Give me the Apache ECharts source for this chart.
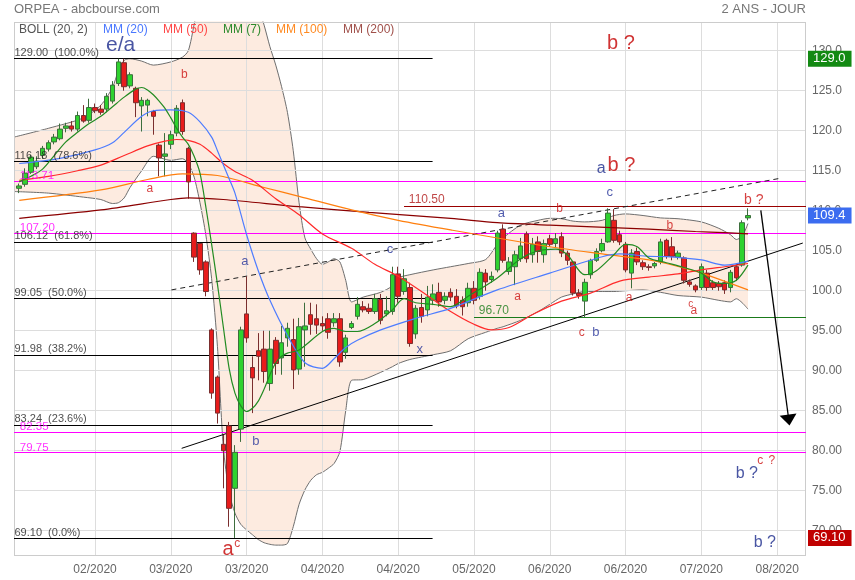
<!DOCTYPE html>
<html><head><meta charset="utf-8">
<script src="https://cdn.jsdelivr.net/npm/echarts@6/dist/echarts.min.js"></script>
<style>html,body{margin:0;padding:0;background:#fff}#c{width:855px;height:580px}</style>
</head><body><div id="c"></div>
<script>
// ---------- data ----------
const opens = [
112.8,113.3,114.8,115.5,116.9,117.7,118.6,119.0,120.3,120.6,
120.2,121.9,121.3,122.9,122.7,122.7,123.7,125.9,128.5,125.6,
125.3,123.1,123.2,122.4,118.2,116.8,118.3,119.7,123.5,117.8,
107.2,105.9,103.6,95.1,89.2,80.8,83.1,75.3,82.7,97.1,
90.4,92.5,92.7,88.4,93.8,91.6,94.1,93.9,90.2,95.1,
97.0,96.5,95.9,96.5,96.0,96.5,92.3,95.4,96.8,98.0,
97.8,97.4,98.9,97.1,97.4,102.1,99.9,100.4,94.6,97.9,
97.6,98.8,99.8,98.8,99.8,99.3,98.8,98.5,100.3,99.3,
102.2,101.4,102.6,107.7,102.4,103.0,104.0,107.1,104.5,106.1,
104.5,106.5,105.9,106.75,104.7,103.6,99.7,98.7,102.0,103.8,
105.0,106.1,108.8,107.0,105.8,102.2,104.9,103.5,103.0,103.1,
103.6,106.3,105.5,104.2,104.1,101.1,100.6,100.4,102.2,101.0,
100.9,101.0,100.4,103.0,103.2,109.1];
const closes = [
113.1,114.7,116.7,116.2,117.8,118.5,119.2,120.2,120.6,120.2,
121.9,121.2,122.9,122.5,122.3,124.3,125.7,128.6,125.5,127.0,
123.5,123.8,123.8,121.8,116.6,117.1,119.5,122.8,119.9,113.6,
104.2,102.6,99.9,87.2,84.7,80.0,72.8,79.8,95.1,94.1,
89.1,91.8,89.9,92.7,90.9,93.5,95.3,90.1,95.5,95.6,
95.8,95.7,95.6,94.8,96.5,91.1,94.1,95.9,98.3,97.6,
97.4,99.0,96.3,97.5,102.0,99.3,101.5,93.4,97.8,96.8,
99.2,99.6,98.6,99.3,99.2,98.1,98.0,100.3,98.8,102.3,
101.1,101.8,107.2,103.8,103.6,104.5,105.6,104.0,105.8,104.9,
105.9,105.8,106.5,104.7,103.8,99.7,99.4,101.05,103.8,104.9,
105.9,109.7,106.3,106.1,102.6,104.7,103.6,103.0,102.9,103.4,
106.1,104.3,104.3,104.7,101.3,100.8,100.1,103.0,100.4,100.4,
100.5,100.1,102.3,101.6,108.5,109.4];
const lows = [
112.2,113.0,114.6,115.2,116.5,117.4,118.3,118.8,119.8,119.9,
119.9,121.0,121.0,122.2,122.0,122.3,123.4,125.6,125.0,125.3,
121.7,119.9,121.8,119.5,114.3,114.3,117.7,119.3,119.5,111.5,
103.6,102.0,99.3,86.5,83.4,75.3,70.5,69.1,81.1,93.5,
84.7,88.8,88.5,87.5,89.5,89.5,93.0,87.7,89.5,90.5,
94.5,94.6,95.0,94.0,95.5,90.5,91.5,95.2,96.4,97.3,
97.1,97.1,95.8,96.8,97.0,98.5,99.5,93.0,94.0,96.0,
96.8,98.2,98.0,98.3,98.7,97.8,96.9,98.0,98.3,98.9,
100.0,101.0,102.3,103.5,102.0,100.7,103.6,103.5,103.5,103.5,
103.5,105.5,105.4,104.2,103.2,99.4,99.0,96.7,101.5,103.6,
104.8,106.0,106.0,105.7,102.3,100.3,103.2,102.6,102.5,102.8,
103.3,104.0,103.8,103.9,100.9,100.5,99.8,100.1,100.0,100.1,
100.0,99.6,99.8,101.2,103.0,108.8];
const highs = [
113.4,115.3,117.0,116.8,118.1,118.8,119.6,120.9,121.0,121.2,
122.4,123.2,124.0,123.4,123.2,124.7,126.2,129.0,129.0,127.3,
125.5,124.2,124.0,122.6,118.4,119.7,120.0,123.2,123.9,118.0,
107.3,106.0,103.8,95.3,89.4,82.0,83.6,80.7,95.5,101.8,
91.8,94.7,95.0,95.0,94.2,95.6,96.0,96.5,96.6,98.5,
98.5,98.3,96.8,97.2,97.2,97.2,94.5,96.2,99.2,98.7,
98.4,99.6,99.6,99.3,103.0,103.0,102.7,101.0,98.2,99.6,
100.6,100.8,101.0,99.8,100.3,100.2,99.3,101.0,101.2,102.8,
102.7,102.4,107.5,108.3,104.2,105.0,106.6,107.4,106.6,106.8,
106.4,107.0,107.2,107.3,105.0,103.7,100.2,101.5,104.0,105.3,
106.5,110.3,110.2,107.5,106.1,105.2,105.4,103.8,103.3,103.6,
106.5,106.5,106.7,105.0,104.3,101.4,100.8,103.4,102.6,101.3,
101.2,101.3,102.6,103.3,108.8,110.3];

// Bollinger bands (20, 2), read at candle indices
const bollIdx = [-0.9,5,11,14,16,17,18,19,21,23,26,28,29,30,31,32,33,34,35,36,
37,38,39,40,41,42,43,44,45,46,47,48,49,50,51,52,53,54,55,56,
57,59,62,64,65,67,71,74,77,80,82,83,86,89,91,93,95,97,100,102,
104,107,110,113,117,120,122,123,124,125];
const bollUpper = [119.2,120.3,121.6,123.2,125.4,127.5,128.8,129.0,128.7,128.2,
128.6,129.2,130.0,133.3,137.0,139.5,141.0,142.0,143.0,143.0,
142.0,141.0,140.0,138.5,135.5,133.2,130.5,128.2,125.5,122.3,
117.5,111.0,106.6,105.2,104.0,103.3,103.6,104.0,103.6,101.3,
98.6,99.2,99.8,100.6,101.6,102.0,102.6,103.0,103.4,103.9,
105.8,106.6,108.2,108.8,109.05,109.0,108.7,108.6,108.8,109.4,
109.6,109.4,109.1,109.0,108.6,107.8,107.0,106.4,106.8,108.4];
const bollLower = [112.4,112.2,111.7,111.4,110.9,111.0,111.6,112.9,115.0,116.8,
116.3,116.5,115.9,114.2,111.0,107.0,101.5,93.0,80.5,74.8,
72.2,70.8,70.1,69.5,68.9,68.5,68.3,68.2,68.2,68.4,
70.5,73.3,75.1,76.3,77.0,77.3,77.8,78.4,79.9,85.0,
88.8,88.9,89.8,90.5,90.9,91.4,92.0,92.5,94.0,94.8,
95.3,95.5,96.3,97.4,98.3,99.2,99.6,99.9,99.9,99.9,
100.0,100.1,99.8,99.4,99.2,98.8,98.6,99.0,98.5,97.7];

// Moving averages, read at candle indices
const mm7Idx = [0,2,4,6,8,10,12,14,16,18,20,21,22,23,24,25,26,27,28,29,30,31,32,33,34,35,36,37,38,39,
40,41,42,43,44,45,46,48,52,54,56,58,61,64,66,68,71,74,77,82,86,89,92,94,97,99,102,104,106,108,
111,114,117,119,121,123,125];
const mm7Val = [113.6,114.3,115.2,116.9,118.6,119.8,120.9,121.8,123.0,124.2,125.2,125.4,125.1,124.5,123.7,122.8,121.6,120.3,119.2,118.3,
116.8,114.7,110.5,105.8,100.8,95.5,90.3,87.2,85.6,84.9,85.3,86.2,87.7,89.5,91.0,91.8,92.2,92.6,94.9,95.3,
94.9,94.9,95.9,97.6,99.0,98.5,98.3,98.0,99.3,101.6,104.0,105.0,105.2,104.5,102.0,102.5,104.5,105.8,105.5,104.1,
103.5,102.9,102.2,101.1,100.9,101.3,103.2];
const mm20Idx = [0,7,13,16,18,21,23,26,29,31,33,34,36,37,39,41,43,46,49,52,54,56,58,62,68,74,82,91,100,103,108,111,117,121,125];
const mm20Val = [115.9,116.55,117.6,118.5,119.8,121.8,122.5,122.6,122.3,121.1,119.2,117.5,114.0,112.2,107.0,102.5,98.8,94.4,91.0,90.3,
91.5,92.9,93.8,95.1,96.55,97.8,100.1,102.2,104.25,104.6,104.3,104.25,103.85,103.2,103.7];
const mm50Idx = [0,5,10,14,18,22,25,27,29,31,33,35,37,40,44,48,52,57,61,65,70,74,78,81,84,88,93,98,103,108,113,117,121,125];
const mm50Val = [113.8,114.3,115.0,115.7,116.9,118.1,118.7,118.9,118.8,118.3,117.2,115.9,114.9,113.8,111.5,109.5,107.1,105.3,103.3,101.8,
99.4,97.4,95.8,95.1,95.4,97.0,98.7,99.7,101.2,101.7,102.1,102.6,103.0,103.4];
const mm100Idx = [0,14,22,28,34,42,48,57,65,74,91,100,108,111,117,125];
const mm100Val = [111.3,112.6,113.9,114.6,114.4,112.9,111.8,110.1,108.8,107.6,105.5,104.6,103.85,103.4,102.2,100.1];
const mm200Idx = [0,14,26,29,35,48,60,74,82,91,108,116,121,125];
const mm200Val = [109.05,110.1,111.4,111.6,111.4,110.5,109.8,109.05,108.5,108.2,107.7,107.4,107.25,107.1];

// Axis ticks
const yTicks = [70,75,80,85,90,95,100,105,110,115,120,125,130];
const xTickIdx = [13,26,39,52,65,78,91,104,117,130];
const xTickLabels = ['02/2020','03/2020','03/2020','04/2020','04/2020','05/2020','06/2020','06/2020','07/2020','08/2020'];

// Drawn levels and lines (value / candle index)
const fibLevels = [129.00,116.18,106.12,99.05,91.98,83.24,69.10];
const fibPct = ['100.0%','78.6%','61.8%','50.0%','38.2%','23.6%','0.0%'];
const pinkLevels = [113.71,107.20,82.35,79.75];
const resistLevel = 110.50, supportLevel = 96.70;
const trendSolid = [[27.86,80.3],[134.4,105.96]];
const trendDashed = [[26.1,100.1],[130.5,114.05]];
const arrowLine = [[127.2,110.04],[132.0,83.84]];
const lastValues = [['129.0',129.0,'up'],['109.4',109.4,'last'],['69.10',69.10,'down']];

// Wave annotations: [index, value, text, kind]
const annotations = [
 [17.4,130.7,'e/a','navyBig'], [28.3,127.0,'b','red'], [22.4,112.7,'a','red'],
 [103.2,130.9,'b ?','redBig'], [99.8,115.3,'a','navyMid'], [103.3,115.6,'b ?','redBig'],
 [101.3,112.3,'c','navy'], [82.7,109.7,'a','navy'], [92.7,110.2,'b','red'],
 [111.6,108.1,'b','red'], [126.0,111.3,'b ?','redMid'], [63.6,105.1,'c','navy'],
 [38.7,103.6,'a','navy'], [85.5,99.2,'a','red'], [104.6,99.1,'a','red'],
 [115.2,98.3,'c','redSmall'], [115.7,97.5,'a','red'], [96.5,94.7,'c','red'],
 [98.9,94.8,'b','navy'], [68.7,92.7,'x','navy'], [40.6,81.1,'b','navy'],
 [35.8,67.7,'a','redBig'], [37.4,68.4,'c','red'],
 [124.8,77.2,'b ?','navyMid'], [127.1,78.7,'c','red'], [129.1,78.8,'?','red'],
 [127.9,68.5,'b ?','navyMid'],
 [69.9,111.34,'110.50','darkred'], [81.4,97.46,'96.70','green']
];
const legendItems = [['BOLL (20, 2)','#555555'],['MM (20)','#4a78ff'],['MM (50)','#ff4646'],['MM (7)','#2d8a2d'],['MM (100)','#ff8a22'],['MM (200)','#a0504a']];

// ---------- chart ----------
const FONT = '"Liberation Sans", Arial, Helvetica, sans-serif';
const X_MIN = -0.9, X_MAX = 134.95, Y_MIN = 66.84, Y_MAX = 133.59, FIB_END = 70.9;
const styles = {
  navyBig:{color:'#1c2a8c', fontSize:21}, navyMid:{color:'#1c2a8c', fontSize:16}, navy:{color:'#27359a', fontSize:13},
  redBig:{color:'#c40000', fontSize:20}, redMid:{color:'#cc1111', fontSize:14}, red:{color:'#cc1111', fontSize:12},
  redSmall:{color:'#cc1111', fontSize:10}, darkred:{color:'#b01818', fontSize:12}, green:{color:'#1d7d1d', fontSize:12},
  fib:{color:'#222222', fontSize:11, align:'left'}, pink:{color:'#ff00ff', fontSize:11.5, align:'left'}
};
const boxColors = {up:'#138a13', last:'#3b6cf0', down:'#c00000'};
const pair = (xs, ys) => xs.map((x, i) => [x, ys[i]]);
const candles = opens.map((o, i) => [i, o, closes[i], lows[i], highs[i]]);

const allLabels = annotations.slice();
fibLevels.forEach((v, i) => allLabels.push([X_MIN + 0.08, v + 0.68, v.toFixed(2) + '  (' + fibPct[i] + ')', 'fib']));
pinkLevels.forEach(v => allLabels.push([0.1, v + 0.62, v.toFixed(2), 'pink']));

function maSeries(name, xs, ys, color) {
  return {name, type:'line', z:5, data:pair(xs, ys), smooth:0.3, symbol:'none', silent:true,
    lineStyle:{color, width:1.2}};
}

const option = {
  animation:false,
  backgroundColor:'#ffffff',
  grid:{left:14, right:49, top:22, bottom:24, show:false},
  xAxis:{type:'value', min:X_MIN, max:X_MAX, splitLine:{show:false}, axisLine:{show:false}, axisTick:{show:false},
    axisLabel:{customValues:xTickIdx, color:'#666', fontSize:12, fontFamily:FONT, margin:8,
      formatter:v => { let k = 0, d = 1e9; xTickIdx.forEach((t, i) => { if (Math.abs(t - v) < d) { d = Math.abs(t - v); k = i; } }); return xTickLabels[k]; }}},
  yAxis:{type:'value', position:'right', min:Y_MIN, max:Y_MAX, splitLine:{show:false}, axisLine:{show:false}, axisTick:{show:false},
    axisLabel:{customValues:yTicks, color:'#666', fontSize:12, fontFamily:FONT, margin:6, padding:[0,0,5,0],
      formatter:v => v >= 100 ? v.toFixed(1) : v.toFixed(2)}},
  graphic:{elements:[
    {type:'text', z:100, left:14, top:3, style:{text:'ORPEA - abcbourse.com', fill:'#777', font:'13px ' + FONT}},
    {type:'text', z:100, right:49, top:3, style:{text:'2 ANS - JOUR', fill:'#777', font:'13px ' + FONT}},
    ...(() => { const xs = [19,103,163,223,276,343]; return legendItems.map((it, i) => ({type:'text', z:100, left:xs[i], top:24, style:{text:it[0], fill:it[1], font:'12px ' + FONT}})); })()
  ]},
  series:[
    // Bollinger upper (peach fill to bottom)
    {name:'BOLL (20, 2) up', type:'line', z:1, data:pair(bollIdx, bollUpper), smooth:0.25, symbol:'none', silent:true,
      lineStyle:{color:'#6e6e6e', width:1}, areaStyle:{color:'#fdebe0', opacity:1, origin:'start'}},
    // Bollinger lower (white fill below)
    {name:'BOLL (20, 2) low', type:'line', z:1, data:pair(bollIdx, bollLower), smooth:0.25, symbol:'none', silent:true,
      lineStyle:{color:'#6e6e6e', width:1}, areaStyle:{color:'#ffffff', opacity:1, origin:'start'}},
    // grid lines and frame
    {type:'line', z:2, data:[[0,100]], symbol:'none', silent:true, lineStyle:{opacity:0},
      markLine:{silent:true, z:2, symbol:'none', animation:false, label:{show:false}, emphasis:{disabled:true},
        lineStyle:{color:'#dddddd', width:1, type:'solid'},
        data:[...yTicks.map(v => ({yAxis:v})), ...xTickIdx.map(v => ({xAxis:v})),
          {yAxis:Y_MAX, lineStyle:{color:'#cccccc'}}, {yAxis:Y_MIN+0.05, lineStyle:{color:'#cccccc'}},
          {xAxis:X_MIN+0.05, lineStyle:{color:'#cccccc'}}, {xAxis:X_MAX-0.05, lineStyle:{color:'#cccccc'}}]}},
    // drawn levels and trend lines
    {type:'line', z:3, data:[[0,100]], symbol:'none', silent:true, lineStyle:{opacity:0},
      markLine:{silent:true, z:3, symbol:'none', animation:false, label:{show:false}, emphasis:{disabled:true},
        lineStyle:{color:'#000', width:1, type:'solid'},
        data:[
          ...fibLevels.map(v => [{coord:[X_MIN, v]}, {coord:[FIB_END, v]}]),
          ...pinkLevels.map(v => ({yAxis:v, lineStyle:{color:'#ff00ff', width:1.2}})),
          [{coord:[66.0, resistLevel], lineStyle:{color:'#9a0000', width:1.2}}, {coord:[X_MAX, resistLevel]}],
          [{coord:[78.0, supportLevel], lineStyle:{color:'#1a7a1a', width:1.2}}, {coord:[X_MAX, supportLevel]}],
          [{coord:trendSolid[0]}, {coord:trendSolid[1]}],
          [{coord:trendDashed[0], lineStyle:{type:[5,4], color:'#222'}}, {coord:trendDashed[1]}]
        ]}},
    // arrow
    {type:'line', z:3, data:[[0,100]], symbol:'none', silent:true, lineStyle:{opacity:0},
      markLine:{silent:true, z:6, animation:false, label:{show:false}, emphasis:{disabled:true},
        lineStyle:{color:'#000', width:1.3, type:'solid'},
        data:[[{coord:arrowLine[0], symbol:'none'}, {coord:arrowLine[1], symbol:'triangle', symbolSize:[17,11]}]]}},
    // candles
    {name:'ORPEA', type:'candlestick', z:4, silent:true, data:candles, encode:{x:0, y:[1,2,3,4]}, barWidth:5,
      itemStyle:{color:'#2fd22f', color0:'#e81c1c', borderColor:'#3d6e3d', borderColor0:'#7a2e2e', borderWidth:1}},
    maSeries('MM (200)', mm200Idx, mm200Val, '#8b0000'),
    maSeries('MM (100)', mm100Idx, mm100Val, '#ff7f0e'),
    maSeries('MM (50)', mm50Idx, mm50Val, '#ff2a2a'),
    maSeries('MM (20)', mm20Idx, mm20Val, '#4d7cff'),
    maSeries('MM (7)', mm7Idx, mm7Val, '#228b22'),
    // annotations
    {type:'scatter', z:7, silent:true, symbolSize:1, itemStyle:{color:'rgba(0,0,0,0)'},
      data:allLabels.map(a => { const st = styles[a[3]]; return {value:[a[0], a[1]],
        label:{show:true, position:'inside', formatter:a[2], color:st.color, fontSize:st.fontSize, fontFamily:FONT,
          align:st.align || 'center', verticalAlign:'middle'}}; })},
    // value boxes on the right
    {type:'line', z:8, data:[[0,100]], symbol:'none', silent:true, lineStyle:{opacity:0},
      markLine:{silent:true, z:8, symbol:'none', animation:false, emphasis:{disabled:true},
        lineStyle:{color:'rgba(0,0,0,0)', width:0},
        data:lastValues.map(b => ({yAxis:b[1], label:{show:true, position:'end', distance:2, formatter:b[0],
          color:'#fff', fontSize:13, fontFamily:FONT, backgroundColor:boxColors[b[2]], padding:[2,6,1,5]}}))}}
  ]
};
const chart = echarts.init(document.getElementById('c'));
chart.setOption(option);
</script>
</body></html>
